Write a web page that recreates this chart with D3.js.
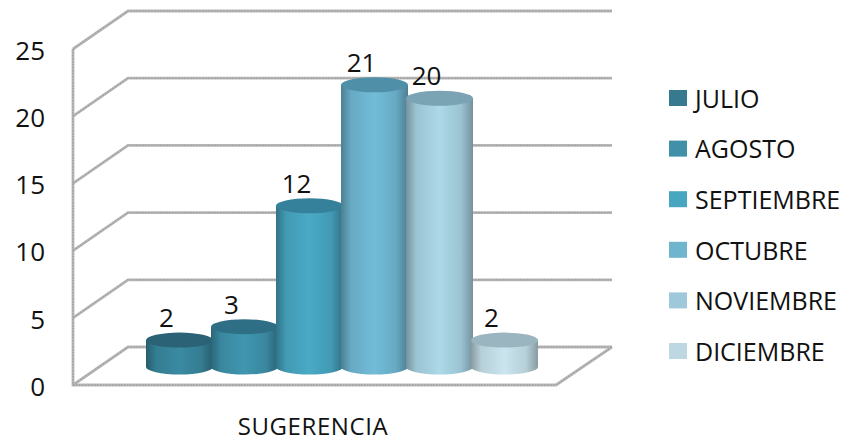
<!DOCTYPE html>
<html>
<head>
<meta charset="utf-8">
<style>
body{margin:0;background:#fff;}
text{font-family:"Open Sans",sans-serif;fill:#111;}
</style>
<script src="https://d3js.org/d3.v7.min.js"></script>
</head>
<body>
<div id="chart-area"></div>
<script>
let months=["JULIO","AGOSTO","SEPTIEMBRE","OCTUBRE","NOVIEMBRE","DICIEMBRE"];
let values=[2,3,12,21,20,2];
let yTicks=[0,5,10,15,20,25];
let category="SUGERENCIA";

let legendColors=["#37798f","#4190a9","#47a6c0","#6eb5cd","#9fc8da","#bdd8e2"];
let barColors=["#3a8aa2","#4096b0","#49aac6","#72bcd8","#acd8e8","#cae5ef"];
let topColors=["#2b6275","#2f6f85","#35809a","#4f90a8","#7aa3b3","#9ab5bf"];

let width=845,height=443;

// depth of the 3d box
let depth={x:55,y:38};
let barDepthY=18;
let ry=7.5;
let wallX=73,backRight=612,floorRight=556;

let svg=d3.select("#chart-area").append("svg")
	.attr("width",width)
	.attr("height",height)
	.style("display","block");

//---------SCALES--------------
let y=d3.scaleLinear()
	.domain([0,25])
	.range([385,49]);

let x=d3.scaleBand()
	.domain(months)
	.range([147,537]);

let rx=x.bandwidth()/2+1;

//---------GRADIENTS-----------
let defs=svg.append("defs");
months.forEach(function(m,i){
	let c=barColors[i];
	let edge=d3.color(c).darker(1.1).formatHex();
	let mid=d3.interpolateRgb(edge,c)(0.7);
	let grad=defs.append("linearGradient").attr("id","bar"+i);
	[[0,edge],[0.15,mid],[0.5,c],[0.82,mid],[1,edge]].forEach(function(s){
		grad.append("stop").attr("offset",s[0]).attr("stop-color",s[1]);
	});
});

//---------BOX AND GRID--------
function gridPath(d){
	let yy=y(d);
	return "M"+wallX+","+yy+"L"+(wallX+depth.x)+","+(yy-depth.y)+"L"+backRight+","+(yy-depth.y);
}
let boxEdge="M"+wallX+","+y(25)+"L"+wallX+","+y(0)+"L"+floorRight+","+y(0)+"L"+backRight+","+(y(0)-depth.y);

// solid line with a dotted one on top for the rough look of the lines
[{stroke:"#b8b8b8",w:2.8,dash:null},{stroke:"#a0a0a0",w:1.4,dash:"1.5 1.5"}].forEach(function(s){
	let grid=svg.append("g")
		.attr("fill","none")
		.attr("stroke",s.stroke)
		.attr("stroke-width",s.w)
		.attr("stroke-dasharray",s.dash);

	grid.selectAll("path.grid").data(yTicks).enter().append("path")
		.attr("class","grid")
		.attr("d",gridPath);

	grid.append("path").attr("d",boxEdge);
});

//---------AXIS----------------
let yAxis=d3.axisLeft(y)
	.tickValues(yTicks)
	.tickSize(0)
	.tickPadding(0);

let yAxisGroup=svg.append("g")
	.attr("class","y-axis")
	.attr("transform","translate(45,2)")
	.call(yAxis);
yAxisGroup.select(".domain").remove();
yAxisGroup.selectAll("text")
	.attr("font-size","26px")
	.attr("font-family","'Open Sans',sans-serif")
	.attr("fill","#111");

//---------CYLINDERS-----------
let bars=svg.selectAll("g.bar").data(values).enter().append("g")
	.attr("class","bar");

bars.append("path")
	.attr("fill",(d,i)=>"url(#bar"+i+")")
	.attr("d",function(d,i){
		let cx=x(months[i])+x.bandwidth()/2;
		let top=y(d)-barDepthY;
		let base=y(0)-barDepthY;
		return "M"+(cx-rx)+","+top+"L"+(cx-rx)+","+base+
			"A"+rx+","+ry+" 0 0 0 "+(cx+rx)+","+base+
			"L"+(cx+rx)+","+top+"Z";
	});

bars.append("ellipse")
	.attr("cx",(d,i)=>x(months[i])+x.bandwidth()/2)
	.attr("cy",d=>y(d)-barDepthY)
	.attr("rx",rx)
	.attr("ry",ry)
	.attr("fill",(d,i)=>topColors[i]);

bars.append("text")
	.attr("x",(d,i)=>x(months[i])+x.bandwidth()/2-13)
	.attr("y",d=>y(d)-barDepthY-22)
	.attr("dy","0.35em")
	.attr("text-anchor","middle")
	.attr("font-size","26px")
	.text(d=>d);

//---------LABELS--------------
svg.append("text")
	.attr("x",313)
	.attr("y",427)
	.attr("dy","0.35em")
	.attr("text-anchor","middle")
	.attr("font-size","24px")
	.attr("letter-spacing","0.6px")
	.text(category);

//---------LEGEND--------------
let legend=svg.append("g")
	.attr("transform","translate(669,98)");

months.forEach(function(month,index){
	let legendRow=legend.append("g")
		.attr("transform","translate(0,"+index*50.6+")");

	legendRow.append("rect")
		.attr("y",-8)
		.attr("width",18)
		.attr("height",16)
		.attr("fill",legendColors[index]);

	legendRow.append("text")
		.attr("x",26)
		.attr("y",1)
		.attr("dy","0.35em")
		.attr("font-size","25px")
		.text(month);
});
</script>
</body>
</html>
